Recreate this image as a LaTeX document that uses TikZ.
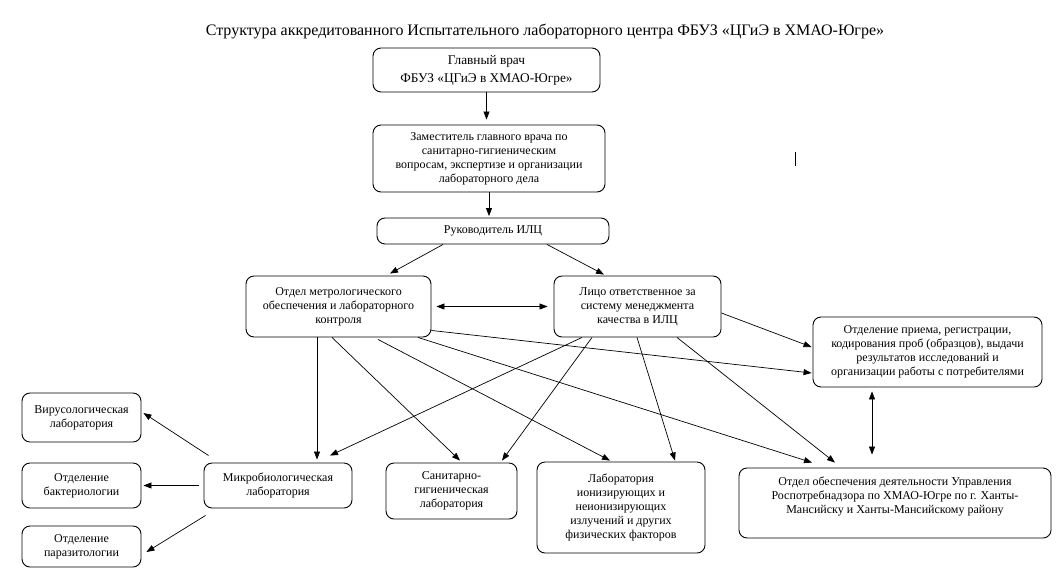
\documentclass[tikz,border=0pt]{standalone}
\usepackage{fontspec}
\setmainfont{Liberation Serif}
\usetikzlibrary{arrows.meta}
\tikzset{
    box/.style={draw, line width=0.9pt, rounded corners=8pt, align=center,
      inner sep=2pt, font=\fontsize{12}{14}\selectfont},
    arr/.style={-{Triangle[length=8pt,width=6pt]}, line width=0.7pt},
    darr/.style={{Triangle[length=8pt,width=6pt]}-{Triangle[length=8pt,width=6pt]}, line width=0.7pt}
}
\begin{document}
\begin{tikzpicture}[x=1pt, y=-1pt]
    \useasboundingbox (0,0) rectangle (1062,571);
    \node[font=\fontsize{16}{18}\selectfont] (title) at (545,31)
      {Структура аккредитованного Испытательного лабораторного центра ФБУЗ «ЦГиЭ в ХМАО-Югре»};
    % upper chain
    \node[box, minimum width=227pt, minimum height=44pt,
      font=\fontsize{13.33}{18}\selectfont] (glav) at (486.5,70)
      {Главный врач\\ФБУЗ «ЦГиЭ в ХМАО-Югре»};
    \node[box, minimum width=232pt, minimum height=67pt] (zam) at (489,158.5)
      {Заместитель главного врача по\\санитарно-гигиеническим\\вопросам, экспертизе и организации\\лабораторного дела};
    \node[box, minimum width=232pt, minimum height=26pt] (ruk) at (493,231) {Руководитель ИЛЦ};
    \node[box, minimum width=185pt, minimum height=61pt] (otm) at (338.5,306.5)
      {Отдел метрологического\\обеспечения и лабораторного\\контроля};
    \node[box, minimum width=167pt, minimum height=61pt] (lico) at (637.5,306.5)
      {Лицо ответственное за\\систему менеджмента\\качества в ИЛЦ};
    \node[box, minimum width=229pt, minimum height=70pt] (priem) at (927.5,352)
      {Отделение приема, регистрации,\\кодирования проб (образцов), выдачи\\результатов исследований и\\организации работы с потребителями};
    % lower row
    \node[box, minimum width=148pt, minimum height=45pt] (mikro) at (278,485.5)
      {Микробиологическая\\лаборатория};
    \node[box, minimum width=131pt, minimum height=56pt] (sanit) at (451.5,491)
      {Санитарно-\\гигиеническая\\лаборатория};
    \node[box, minimum width=168pt, minimum height=91pt] (lab) at (621,507.5)
      {Лаборатория\\ионизирующих и\\неионизирующих\\излучений и других\\физических факторов};
    \node[box, minimum width=312pt, minimum height=70pt, text depth=15pt] (obesp) at (895,503)
      {Отдел обеспечения деятельности Управления\\Роспотребнадзора по ХМАО-Югре по г. Ханты-\\Мансийску и Ханты-Мансийскому району};
    \node[box, minimum width=119pt, minimum height=49pt] (viru) at (81.5,417.5)
      {Вирусологическая\\лаборатория};
    \node[box, minimum width=119pt, minimum height=45pt] (bakt) at (81.5,485.5)
      {Отделение\\бактериологии};
    \node[box, minimum width=119pt, minimum height=41pt] (para) at (81.5,546.5)
      {Отделение\\паразитологии};
    % connectors
    \draw[arr, shorten >=5pt] (glav.south) -- (glav.south |- zam.north);
    \draw[arr, shorten >=1.5pt] (zam.south) -- (zam.south |- ruk.north);
    \draw[arr] ([xshift=-50pt]ruk.south) -- ([xshift=51.5pt,yshift=2pt]otm.north);
    \draw[arr] ([xshift=54pt]ruk.south) -- ([xshift=-33.5pt,yshift=1pt]lico.north);
    \draw[darr, shorten <=5pt, shorten >=6pt] (otm.east) -- (lico.west);
    \draw[arr] ([yshift=-6.5pt]lico.east) -- ([xshift=-1pt,yshift=5pt]priem.west);
    \draw[arr] ([yshift=7pt]otm.south east) -- ([xshift=-1pt,yshift=-21pt]priem.west);
    \draw[arr] ([xshift=-21.5pt]otm.south) -- ([xshift=39pt,yshift=3pt]mikro.north);
    \draw[arr] ([xshift=-6.5pt]otm.south) -- ([xshift=8.5pt,yshift=2pt]sanit.north);
    \draw[arr] ([xshift=39.5pt,yshift=-2pt]otm.south) -- ([xshift=-11pt,yshift=1pt]lab.north);
    \draw[arr] ([xshift=79.5pt]otm.south) -- ([xshift=-83pt,yshift=5pt]obesp.north);
    \draw[arr] ([xshift=-55.5pt]lico.south) -- ([xshift=52pt,yshift=7pt]mikro.north);
    \draw[arr] ([xshift=-45.5pt]lico.south) -- ([xshift=50.5pt,yshift=2pt]sanit.north);
    \draw[arr] ([xshift=-0.5pt]lico.south) -- ([xshift=54pt,yshift=1pt]lab.north);
    \draw[arr] ([xshift=39.5pt]lico.south) -- ([xshift=-60pt,yshift=5pt]obesp.north);
    \draw[darr] ([xshift=-55.5pt,yshift=-4pt]priem.south) -- ([xshift=-23pt,yshift=13pt]obesp.north);
    \draw[arr] ([xshift=5pt,yshift=7pt]mikro.north west) -- ([xshift=2pt,yshift=4.5pt]viru.east);
    \draw[arr] ([xshift=-5pt]mikro.west) -- ([xshift=2pt]bakt.east);
    \draw[arr] ([xshift=2pt,yshift=-7pt]mikro.south west) -- ([xshift=5pt,yshift=-5.5pt]para.east);
    % stray mark
    \draw[line width=0.7pt] (795,152) -- (795,166);
\end{tikzpicture}
\end{document}
